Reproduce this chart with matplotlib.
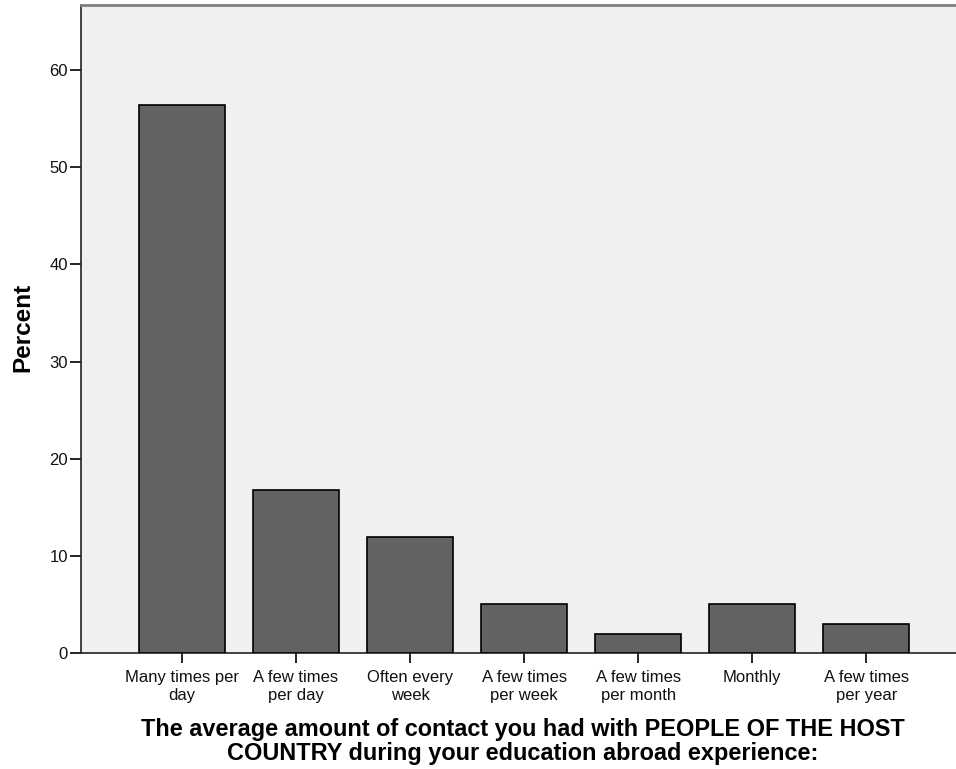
import numpy as np
import matplotlib.pyplot as plt

# ---------------- Data ----------------

categories = ["Many times per\nday", "A few times\nper day", "Often every\nweek",
              "A few times\nper week", "A few times\nper month", "Monthly",
              "A few times\nper year"]
percent = [56.4, 16.8, 11.9, 5.0, 2.0, 5.0, 3.0]

plt.rcParams["font.family"] = ["Liberation Sans", "DejaVu Sans"]

# ---------------- Plot ----------------

fig = plt.figure(figsize=(9.56, 7.69), dpi=100)
ax = fig.add_axes([81 / 956, 1 - 653 / 769, 1 - 81 / 956 + 0.01, (653 - 5) / 769])
ax.set_facecolor("#f0f0f0")

x = np.arange(len(categories))
ax.bar(x, percent, width=0.755, color="#636363", edgecolor="black", linewidth=1.2, zorder=3)

ax.set_xlim(-0.884, 6.87)
ax.set_ylim(0, 66.7)
ax.set_yticks([0, 10, 20, 30, 40, 50, 60])
ax.set_xticks(x)
ax.set_xticklabels(categories, fontsize=12, linespacing=1.24, color="#111111")
ax.tick_params(axis="y", labelsize=12, length=8, width=1.2, pad=1.5, labelcolor="#111111")
ax.tick_params(axis="x", length=7.5, width=1.2, pad=4.5)

for side in ["left", "bottom"]:
    ax.spines[side].set_color("#222222")
    ax.spines[side].set_linewidth(1.2)
ax.spines["top"].set_color("#808080")
ax.spines["top"].set_linewidth(2)
ax.spines["right"].set_visible(False)

fig.text(23 / 956, 1 - 327 / 769, "Percent", rotation=90, fontsize=17.5,
         fontweight="bold", ha="center", va="center")
fig.text(523 / 956, 1 - 760 / 769,
         "The average amount of contact you had with PEOPLE OF THE HOST\n"
         "COUNTRY during your education abroad experience:",
         fontsize=16.9, fontweight="bold", ha="center", va="baseline",
         multialignment="center", linespacing=1.08)

fig.savefig("out.png", dpi=100)
